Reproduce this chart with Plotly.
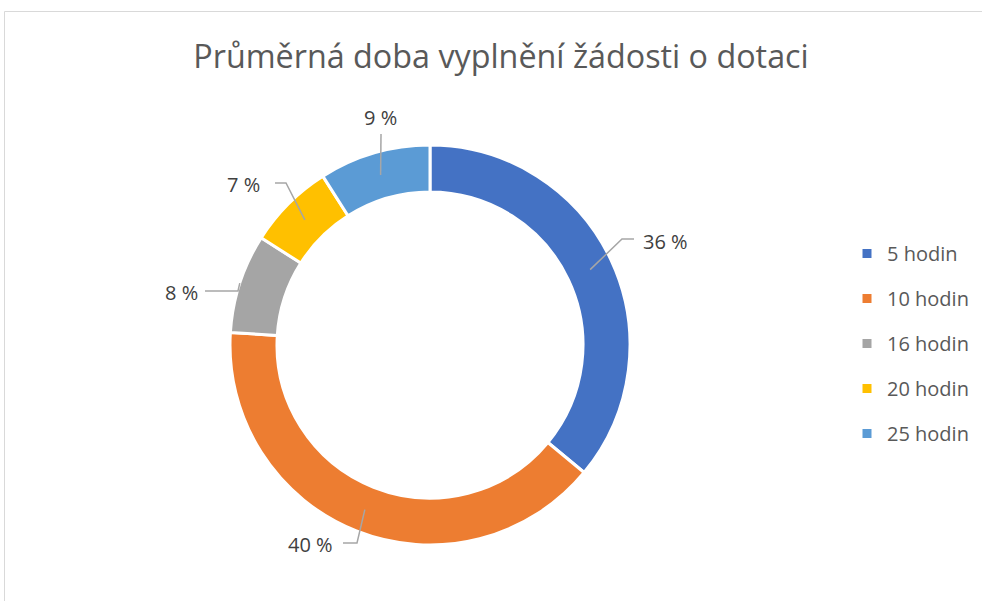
import math
import plotly.graph_objects as go

# chart data
labels = ["5 hodin", "10 hodin", "16 hodin", "20 hodin", "25 hodin"]
values = [36, 40, 8, 7, 9]
colors = ["#4472C4", "#ED7D31", "#A5A5A5", "#FFC000", "#5B9BD5"]
title = "Průměrná doba vyplnění žádosti o dotaci"

W, H = 982, 601
CX, CY, R = 430, 345, 200  # donut centre / outer radius in px

# label placement (px): elbow point, end of the horizontal stub, text centre
label_layout = [
    {"r": 177, "elbow": (622, 239), "end": (634, 239), "text": (665, 241)},
    {"r": 177, "elbow": (357, 543), "end": (343, 543), "text": (310, 544)},
    {"r": 200, "elbow": (238, 291), "end": (205, 291), "text": (181, 292)},
    {"r": 177, "elbow": (286, 183), "end": (275, 183), "text": (243, 185)},
    {"r": 177, "elbow": (381, 134), "end": (381, 134), "text": (380, 117)},
]


def px(x, y):
    return x / W, 1 - y / H


fig = go.Figure()
fig.add_trace(go.Pie(labels=labels, values=values, hole=0.765, sort=False,
                     direction="clockwise", rotation=0,
                     marker=dict(colors=colors, line=dict(color="white", width=3)),
                     textinfo="none", hoverinfo="label+percent", showlegend=False,
                     domain=dict(x=[(CX - R) / W, (CX + R) / W],
                                 y=[1 - (CY + R) / H, 1 - (CY - R) / H])))

# legend entries as dummy traces so the rows can be spaced out
for name, col in zip(labels, colors):
    fig.add_trace(go.Scatter(x=[None], y=[None], mode="markers", name=name,
                             legendgroup=name,
                             marker=dict(symbol="square", size=9, color=col)))

total = sum(values)
cum = 0
shapes = []
annotations = []
for v, lay in zip(values, label_layout):
    mid = (cum + v / 2) / total * 2 * math.pi
    cum += v
    x0, y0 = CX + lay["r"] * math.sin(mid), CY - lay["r"] * math.cos(mid)
    pts = [px(x0, y0), px(*lay["elbow"]), px(*lay["end"])]
    path = "M %f,%f L %f,%f L %f,%f" % (pts[0] + pts[1] + pts[2])
    shapes.append(dict(type="path", xref="paper", yref="paper", path=path,
                       line=dict(color="#A6A6A6", width=1.5)))
    tx, ty = px(*lay["text"])
    annotations.append(dict(x=tx, y=ty, xref="paper", yref="paper",
                            xanchor="center", yanchor="middle",
                            text="%d %%" % round(v / total * 100), showarrow=False,
                            font=dict(size=20, color="#404040")))

# chart border
shapes.append(dict(type="rect", xref="paper", yref="paper",
                   x0=4.5 / W, x1=1.02, y0=-0.02, y1=1 - 11.5 / H,
                   line=dict(color="#D9D9D9", width=1)))

fig.update_layout(
    width=W, height=H,
    margin=dict(l=0, r=0, t=0, b=0, autoexpand=False),
    paper_bgcolor="white", plot_bgcolor="white",
    font=dict(family="Open Sans, sans-serif", color="#595959"),
    title=dict(text=title, x=501 / W, xanchor="center", y=1 - 57 / H, yanchor="middle",
               font=dict(size=32.3, color="#595959")),
    xaxis=dict(visible=False), yaxis=dict(visible=False),
    legend=dict(x=847 / W, xanchor="left", y=1 - 234 / H, yanchor="top",
                traceorder="grouped", tracegroupgap=16,
                font=dict(size=20, color="#595959")),
    shapes=shapes, annotations=annotations,
)

fig.write_html("out.html", config={"displayModeBar": False},
               post_script="document.body.style.margin='0';")
